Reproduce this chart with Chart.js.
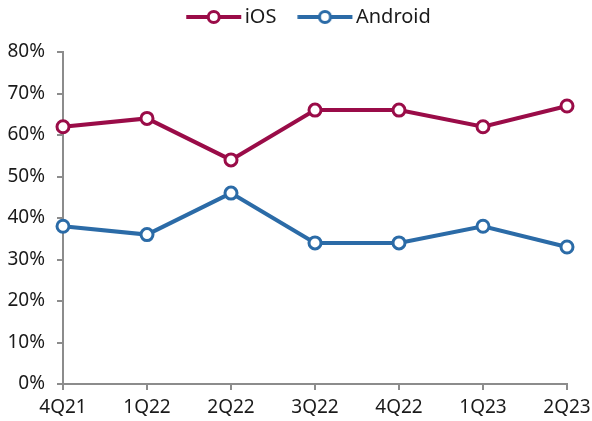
<!DOCTYPE html>
<html><head><meta charset="utf-8">
<script src="https://cdn.jsdelivr.net/npm/chart.js@4"></script>
<style>html,body{margin:0;padding:0;background:#fff}#wrap{width:592px;height:421px}</style>
</head><body><div id="wrap"><canvas id="c" width="592" height="421"></canvas></div>
<script>
const categories = ['4Q21','1Q22','2Q22','3Q22','4Q22','1Q23','2Q23'];
const iosValues = [62, 64, 54, 66, 66, 62, 67];
const androidValues = [38, 36, 46, 34, 34, 38, 33];
const yTicks = [0,10,20,30,40,50,60,70,80];

const iosColor = '#9A0C48';
const androidColor = '#2B6BA7';
const axisColor = '#8c8c8c';
Chart.defaults.font.family = "'Noto Sans', sans-serif";
Chart.defaults.font.size = 19;
Chart.defaults.color = '#1a1a1a';

function legendIcon(color){
  const W = 74, H = 16, a = 18.25, L = 55;
  const c = document.createElement('canvas');
  c.width = W; c.height = H;
  const g = c.getContext('2d');
  g.strokeStyle = color; g.lineWidth = 4;
  g.beginPath(); g.moveTo(a, H/2); g.lineTo(a+L, H/2); g.stroke();
  g.beginPath(); g.arc(a+L/2, H/2, 5.5, 0, Math.PI*2);
  g.fillStyle = '#fff'; g.fill(); g.lineWidth = 3; g.stroke();
  return c;
}

const ch = new Chart(document.getElementById('c'), {
  type: 'line',
  data: {
    labels: categories,
    datasets: [
      {label:'iOS', data: iosValues, borderColor: iosColor, backgroundColor:'#fff', borderWidth:4,
       pointRadius:6, pointBorderWidth:3, pointBackgroundColor:'#fff', pointBorderColor: iosColor, tension:0},
      {label:'Android', data: androidValues, borderColor: androidColor, backgroundColor:'#fff', borderWidth:4,
       pointRadius:6, pointBorderWidth:3, pointBackgroundColor:'#fff', pointBorderColor: androidColor, tension:0}
    ]
  },
  options: {
    responsive:false, animation:false,
    layout:{padding:{left:0,right:25,top:0,bottom:0}},
    plugins:{
      legend:{position:'top', labels:{usePointStyle:true, pointStyleWidth:59.5, boxHeight:16, padding:10, font:{size:20},
        generateLabels(chart){
          return chart.data.datasets.map((d,i)=>({text:d.label, pointStyle: legendIcon(d.borderColor), strokeStyle:d.borderColor, fillStyle:'#fff', lineWidth:0, datasetIndex:i, fontColor:'#1a1a1a'}));
        }}},
      tooltip:{enabled:false}
    },
    scales:{
      x:{offset:false, afterFit(s){ s.height = 37; s.paddingLeft = 0; s.paddingRight = 0; },
         grid:{drawOnChartArea:false, drawTicks:true, tickLength:6, color:axisColor, lineWidth:2},
         border:{color:axisColor, width:2}, ticks:{padding:6, maxRotation:0}},
      y:{min:0, max:80, afterFit(s){ s.width = 63; }, afterBuildTicks(s){ s.ticks = yTicks.map(v=>({value:v})); },
         grid:{drawOnChartArea:false, drawTicks:true, tickLength:6, color:axisColor, lineWidth:2},
         border:{color:axisColor, width:2},
         ticks:{padding:12, callback:v=>v+'%'}}
    }
  }
});
// nudge the legend box: extra height below it, and shift it right
const lg = ch.legend;
const origFit = lg.fit.bind(lg);
lg.fit = function(){ origFit(); this.height += 12; };
const origDraw = lg.draw.bind(lg);
lg.draw = function(){ const c = ch.ctx; c.save(); c.translate(19.5, -3); origDraw(); c.restore(); };
ch.update();
</script></body></html>
